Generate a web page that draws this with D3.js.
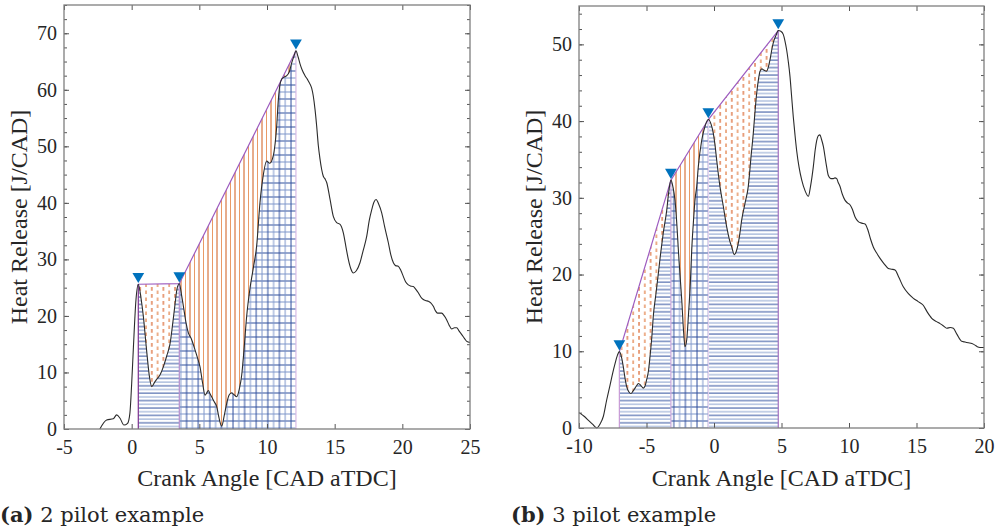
<!DOCTYPE html>
<html>
<head>
<meta charset="utf-8">
<script src="https://cdn.jsdelivr.net/npm/d3@7"></script>
<style>
  body { margin: 0; background: #fff; }
  text { font-family: "Liberation Serif", Tinos, "Nimbus Roman", "Times New Roman", Times, serif; fill: #262626; }
</style>
</head>
<body>
<div id="chart"></div>
<script>
// ---- (a) 2 pilot example ----
var leftAngle = [-2.35, -1.85, -1.36, -1.11, -0.86, -0.57, -0.3, -0.13, 0.0, 0.12, 0.32, 0.49,
    0.7, 0.86, 1.1, 1.3, 1.48, 1.7, 1.85, 2.1, 2.34, 2.6, 2.83, 3.05, 3.2, 3.35, 3.52,
    3.7, 3.85, 4.0, 4.19, 4.4, 4.68, 4.9, 5.05, 5.25, 5.42, 5.55, 5.66, 5.8, 5.91, 6.1, 6.28,
    6.45, 6.65, 6.85, 7.02, 7.2, 7.39, 7.55, 7.76, 7.95, 8.13, 8.3, 8.5, 8.75, 8.99, 9.24,
    9.48, 9.7, 9.98, 10.2, 10.47, 10.6, 10.7, 10.84, 10.95, 11.09, 11.3, 11.46, 11.65, 11.83,
    12.0, 12.14, 12.3, 12.44, 12.6, 12.81, 13.0, 13.18, 13.3, 13.42, 13.55, 13.67, 13.79,
    13.92, 14.04, 14.16, 14.3, 14.41, 14.66, 14.9, 15.15, 15.4, 15.64, 15.85, 16.01, 16.2,
    16.38, 16.6, 16.87, 17.1, 17.37, 17.55, 17.74, 17.9, 18.06, 18.25, 18.48, 18.7, 18.97,
    19.15, 19.34, 19.5, 19.7, 19.9, 20.07, 20.25, 20.44, 20.6, 20.81, 21.0, 21.18, 21.35,
    21.55, 21.75, 21.92, 22.1, 22.29, 22.45, 22.6, 22.75, 22.91, 23.1, 23.28, 23.45, 23.65,
    23.85, 24.02, 24.2, 24.39, 24.6, 24.76, 25.0];
var leftHeat = [0, 1.6, 1.8, 2.5, 1.9, 0.7, 1.0, 2.8, 8, 14, 22.9, 25.6,
    23, 20, 14, 9.5, 7.5, 8.3, 8.8, 9.6, 11, 13, 15, 19, 22, 24.8, 25.7,
    23.5, 21.3, 19, 17, 16, 14, 12.3, 11, 8, 6, 6.4, 6.8, 6.2, 5.7, 4.8, 4,
    2, 0.5, 2.5, 4.5, 6, 6.4, 6.1, 5.7, 7, 9.5, 14, 20, 25, 28.5, 32.5,
    40, 44.5, 47.4, 47.0, 48.4, 50.5, 53, 58.3, 60.8, 61.9, 62.3, 62.5, 63.2, 64.8,
    66.0, 66.9, 65.8, 64.6, 63.5, 62.5, 61.8, 61.0, 60.3, 58.9, 56.5, 53.6, 50.2,
    47.7, 45.9, 44.7, 44.2, 43.6, 40.6, 37.6, 36.5, 36.2, 34.7, 32, 30, 28.3,
    27.6, 28, 29.4, 31.5, 34.1, 36.8, 38.8, 40.1, 40.6, 39.8, 38.2, 35.7, 32.9,
    30.8, 29.4, 28.9, 28.8, 28, 27, 26, 25.5, 25.3, 25.2, 24.7, 24.1, 23.4,
    22.9, 22.7, 22.6, 22.3, 21.7, 20.9, 20.5, 20.5, 20.5, 20.0, 19.3, 18.4, 17.7,
    17.9, 17.9, 17.3, 16.7, 16, 15.5, 15.3];
var leftPeaks = [0.49, 3.52, 12.14];
var leftBelow = ["hatchH", "hatchGrid"];
var leftAbove = ["hatchDash", "hatchV"];
var leftXTicks = [-5, 0, 5, 10, 15, 20, 25];
var leftYTicks = [0, 10, 20, 30, 40, 50, 60, 70];

// ---- (b) 3 pilot example ----
var rightAngle = [-10.0, -9.6, -9.3, -9.0, -8.69, -8.45, -8.2, -7.95, -7.7, -7.5, -7.33, -7.15, -7.01,
    -6.85, -6.72, -6.6, -6.47, -6.3, -6.15, -6.0, -5.85, -5.7, -5.6, -5.4, -5.24, -5.1, -4.99,
    -4.85, -4.74, -4.6, -4.5, -4.3, -4.12, -3.95, -3.76, -3.5, -3.35, -3.19,
    -3.05, -2.89, -2.75, -2.64, -2.5, -2.39, -2.25, -2.15, -2.02, -1.9, -1.75, -1.65, -1.5,
    -1.41, -1.28, -1.16, -0.91, -0.67, -0.42,
    -0.2, -0.05, 0.08, 0.2, 0.44, 0.69, 0.94, 1.15, 1.31, 1.5, 1.65, 1.8, 1.92, 2.05, 2.3,
    2.54, 2.75, 2.91, 3.05, 3.16, 3.3, 3.41, 3.55, 3.65, 3.9, 4.02, 4.15, 4.28, 4.39, 4.6, 4.76,
    4.95, 5.13, 5.25, 5.38, 5.5, 5.63, 5.75, 5.87, 6.0, 6.12, 6.3, 6.5, 6.75, 6.99, 7.15, 7.36,
    7.5, 7.61, 7.73, 7.85, 7.95, 8.1, 8.3, 8.47, 8.65, 8.84, 8.96, 9.09, 9.2, 9.33, 9.5, 9.7,
    9.9, 10.07, 10.25, 10.45, 10.69, 10.95, 11.19, 11.4, 11.6, 11.8, 12.05, 12.3, 12.6, 12.91,
    13.15, 13.41, 13.7, 14.02, 14.4, 14.77, 15.1, 15.5, 15.8, 16.13, 16.45, 16.74, 17.0,
    17.24, 17.5, 17.73, 18.0, 18.35, 18.6, 18.84, 19.1, 19.33, 19.5, 19.7, 20.0];
var rightHeat = [2.0, 1.5, 1.0, 0.5, 0.0, 0.5, 1.5, 3.65, 5.6, 7.2, 8.4, 9.5, 9.95,
    9.2, 8.0, 6.6, 5.4, 4.7, 4.5, 4.8, 5.2, 5.6, 5.8, 5.5, 5.2, 5.5, 6.3,
    7.5, 9.3, 12, 14.5, 17.5, 20.2, 22.8, 25.4, 28.4, 30.8, 32.3,
    31.5, 29.7, 26.5, 23.2, 19.5, 16.7, 12.5, 10.6, 11.5, 14.5, 19, 23.2, 27.5,
    29.7, 31.5, 34.1, 37.5, 39.3, 40.2,
    39.5, 38.4, 36.8, 34.9, 31.5, 28.9, 26.2, 24.5, 23.6, 22.6, 23.0, 24.1, 25.4, 27.1, 29.3,
    31.5, 35.5, 38.4, 41.5, 43.6, 45.5, 46.5, 46.8, 46.7, 46.5, 47.0, 48.0, 49.3, 50.2, 51.2, 51.8,
    51.7, 51.3, 50.5, 49.3, 47.8, 45.8, 43.2, 40.6, 38.2, 36.2, 34, 32.3, 30.9, 30.2, 31.5, 34.1,
    36.3, 37.5, 38.1, 38.2, 37.7, 36.7, 34.5, 32.9, 32.5, 32.5, 32.6, 32.5, 32, 31.5, 30.5, 29.7,
    29.3, 29.1, 28.5, 27.5, 26.9, 26.7, 26.6, 25.8, 24.6, 23.6, 22.8, 22.1, 21.4, 20.8,
    20.7, 20.6, 19.6, 18.4, 17.5, 16.9, 16.5, 16.0, 15.1, 14.3, 13.9, 13.6, 13.3,
    13.0, 13.1, 13.0, 12.2, 11.3, 11.2, 11.1, 11.0, 10.8, 10.6, 10.5, 10.5];
var rightPeaks = [-7.01, -3.19, -0.42, 4.76];
var rightBelow = ["hatchH", "hatchGrid", "hatchH"];
var rightAbove = ["hatchDash", "hatchV", "hatchDash"];
var rightXTicks = [-10, -5, 0, 5, 10, 15, 20];
var rightYTicks = [0, 10, 20, 30, 40, 50];

var serif = "'Liberation Serif', Tinos, 'Nimbus Roman', 'Times New Roman', Times, serif";

var svg = d3.select("#chart")
    .append("svg")
    .attr("width", 1004)
    .attr("height", 530);
var defs = svg.append("defs");

// hatch patterns
var pH = defs.append("pattern").attr("id", "hatchH").attr("patternUnits", "userSpaceOnUse")
    .attr("width", 8).attr("height", 7.4);
pH.append("rect").attr("width", 8).attr("height", 7.4).attr("fill", "#fff");
pH.append("line").attr("x1", 0).attr("x2", 8).attr("y1", 1).attr("y2", 1).attr("stroke", "#2f4f9e");
pH.append("line").attr("x1", 0).attr("x2", 8).attr("y1", 4.7).attr("y2", 4.7).attr("stroke", "#8aa2d0");

var pG = defs.append("pattern").attr("id", "hatchGrid").attr("patternUnits", "userSpaceOnUse")
    .attr("width", 11.6).attr("height", 14);
pG.append("rect").attr("width", 11.6).attr("height", 14).attr("fill", "#fff");
pG.append("line").attr("x1", 0).attr("x2", 11.6).attr("y1", 1).attr("y2", 1).attr("stroke", "#2f4f9e");
pG.append("line").attr("x1", 0).attr("x2", 11.6).attr("y1", 8).attr("y2", 8).attr("stroke", "#7f98cc");
pG.append("line").attr("x1", 1).attr("x2", 1).attr("y1", 0).attr("y2", 14).attr("stroke", "#2f4f9e");
pG.append("line").attr("x1", 6.8).attr("x2", 6.8).attr("y1", 0).attr("y2", 14).attr("stroke", "#7f98cc");

var pV = defs.append("pattern").attr("id", "hatchV").attr("patternUnits", "userSpaceOnUse")
    .attr("width", 9).attr("height", 10);
pV.append("line").attr("x1", 1).attr("x2", 1).attr("y1", 0).attr("y2", 10).attr("stroke", "#cf5a18");
pV.append("line").attr("x1", 5.5).attr("x2", 5.5).attr("y1", 0).attr("y2", 10).attr("stroke", "#e99a66");

var pD = defs.append("pattern").attr("id", "hatchDash").attr("patternUnits", "userSpaceOnUse")
    .attr("width", 11.6).attr("height", 7);
pD.append("line").attr("x1", 1).attr("x2", 1).attr("y1", 0).attr("y2", 3.8).attr("stroke", "#d9622a").attr("stroke-width", 1.2);
pD.append("line").attr("x1", 6.8).attr("x2", 6.8).attr("y1", 3.5).attr("y2", 7.3).attr("stroke", "#e07a3e").attr("stroke-width", 1.2);

function drawPanel(o) {
    var g = svg.append("g");
    var x = d3.scaleLinear().domain(o.xDomain).range([o.left, o.right]);
    var y = d3.scaleLinear().domain(o.yDomain).range([o.bottom, o.top]);
    var pts = o.angle.map(function (a, i) { return [a, o.heat[i]]; });
    var peaks = o.peaks.map(function (p) { return pts.find(function (d) { return d[0] === p; }); });

    var line = d3.line()
        .x(function (d) { return x(d[0]); })
        .y(function (d) { return y(d[1]); })
        .curve(d3.curveMonotoneX);
    var area = d3.area()
        .x(function (d) { return x(d[0]); })
        .y0(y(0))
        .y1(function (d) { return y(d[1]); })
        .curve(d3.curveMonotoneX);

    // hatched areas between consecutive peaks
    for (var i = 0; i < peaks.length - 1; i++) {
        var a = peaks[i], b = peaks[i + 1];
        // region under the envelope (orange), later covered below the curve
        g.append("path")
            .attr("d", d3.line()([[x(a[0]), y(0)], [x(a[0]), y(a[1])], [x(b[0]), y(b[1])], [x(b[0]), y(0)]]) + "Z")
            .attr("fill", "url(#" + o.above[i] + ")");
        var cid = o.id + "clip" + i;
        defs.append("clipPath").attr("id", cid)
            .append("rect")
            .attr("x", x(a[0])).attr("y", o.top)
            .attr("width", x(b[0]) - x(a[0]))
            .attr("height", o.bottom - o.top);
        g.append("path")
            .datum(pts)
            .attr("d", area)
            .attr("fill", "url(#" + o.below[i] + ")")
            .attr("clip-path", "url(#" + cid + ")");
    }

    // vertical boundaries at peaks
    g.selectAll(".bound")
        .data(peaks)
        .enter()
        .append("line")
        .attr("x1", function (d) { return x(d[0]); })
        .attr("x2", function (d) { return x(d[0]); })
        .attr("y1", y(0))
        .attr("y2", function (d) { return y(d[1]); })
        .attr("stroke", function (d, i) { return o.boundColors[i]; })
        .attr("stroke-width", 1.2);

    // envelope line
    g.append("path")
        .datum(peaks)
        .attr("d", d3.line().x(function (d) { return x(d[0]); }).y(function (d) { return y(d[1]); }))
        .attr("fill", "none")
        .attr("stroke", "#9d5cc0")
        .attr("stroke-width", 1.2);

    // heat release curve
    g.append("path")
        .datum(pts)
        .attr("d", line)
        .attr("fill", "none")
        .attr("stroke", "#2b2b2b")
        .attr("stroke-width", 1.1);

    // peak markers
    g.selectAll(".peak")
        .data(peaks)
        .enter()
        .append("path")
        .attr("d", d3.symbol(d3.symbolTriangle, 60))
        .attr("transform", function (d) { return "translate(" + x(d[0]) + "," + (y(d[1]) - 8) + ") rotate(180)"; })
        .attr("fill", "#0072BD");

    // axes (ticks inward on all four sides)
    var fmt = function (d) { return d; };
    var axB = g.append("g").attr("transform", "translate(0," + o.bottom + ")")
        .call(d3.axisBottom(x).tickValues(o.xTicks).tickSize(-5).tickPadding(11).tickFormat(fmt));
    var axT = g.append("g").attr("transform", "translate(0," + o.top + ")")
        .call(d3.axisTop(x).tickValues(o.xTicks).tickSize(-5).tickFormat(""));
    var axL = g.append("g").attr("transform", "translate(" + o.left + ",0)")
        .call(d3.axisLeft(y).tickValues(o.yTicks).tickSize(-5).tickPadding(7).tickFormat(fmt));
    var axLm = g.append("g").attr("transform", "translate(" + o.left + ",0)")
        .call(d3.axisLeft(y).tickValues(o.yMinor).tickSize(-3).tickFormat(""));
    var axR = g.append("g").attr("transform", "translate(" + o.right + ",0)")
        .call(d3.axisRight(y).tickValues(o.yTicks).tickSize(-5).tickFormat(""));
    var axRm = g.append("g").attr("transform", "translate(" + o.right + ",0)")
        .call(d3.axisRight(y).tickValues(o.yMinor).tickSize(-3).tickFormat(""));
    [axB, axT, axL, axLm, axR, axRm].forEach(function (ax) {
        ax.attr("font-family", null).attr("font-size", null);
        ax.select(".domain").remove();
        ax.selectAll("line").attr("stroke", "#555");
        ax.selectAll("text")
            .style("font-family", serif)
            .style("font-size", "20px")
            .attr("fill", "#262626");
    });

    // box
    g.append("rect")
        .attr("x", o.left).attr("y", o.top)
        .attr("width", o.right - o.left).attr("height", o.bottom - o.top)
        .attr("fill", "none")
        .attr("stroke", "#7f7f7f")
        .attr("stroke-width", 1.3);

    // axis titles
    g.append("text")
        .attr("text-anchor", "middle")
        .attr("x", (o.left + o.right) / 2)
        .attr("y", 486)
        .style("font-family", serif)
        .style("font-size", "24px")
        .text("Crank Angle [CAD aTDC]");
    g.append("text")
        .attr("text-anchor", "middle")
        .attr("transform", "translate(" + o.yTitleX + ",217) rotate(-90)")
        .style("font-family", serif)
        .style("font-size", "24px")
        .text("Heat Release [J/CAD]");

    // caption
    var cap = g.append("text")
        .attr("x", o.capX)
        .attr("y", 522)
        .style("font-family", "'DejaVu Serif', serif")
        .style("font-size", "21px")
        .attr("fill", "#111");
    cap.append("tspan").style("font-weight", "bold").text(o.capTag);
    cap.append("tspan").text(" " + o.caption);
}

drawPanel({
    id: "left",
    angle: leftAngle, heat: leftHeat, peaks: leftPeaks,
    below: leftBelow, above: leftAbove,
    xDomain: [-5, 25], yDomain: [0, 75],
    xTicks: leftXTicks, yTicks: leftYTicks, yMinor: d3.range(0, 75.01, 2.5),
    left: 64, right: 470, top: 5, bottom: 429,
    yTitleX: 27,
    boundColors: ["#7E2F8E", "#b48ccb", "#dcbde6"],
    capX: 0, capTag: "(a)", caption: "2 pilot example"
});

drawPanel({
    id: "right",
    angle: rightAngle, heat: rightHeat, peaks: rightPeaks,
    below: rightBelow, above: rightAbove,
    xDomain: [-10, 20], yDomain: [0, 55],
    xTicks: rightXTicks, yTicks: rightYTicks, yMinor: d3.range(0, 55.01, 2),
    left: 579, right: 984, top: 6, bottom: 428,
    yTitleX: 542,
    boundColors: ["#c79bd6", "#c9a6dc", "#e2d0ee", "#a472c0"],
    capX: 511, capTag: "(b)", caption: "3 pilot example"
});
</script>
</body>
</html>
